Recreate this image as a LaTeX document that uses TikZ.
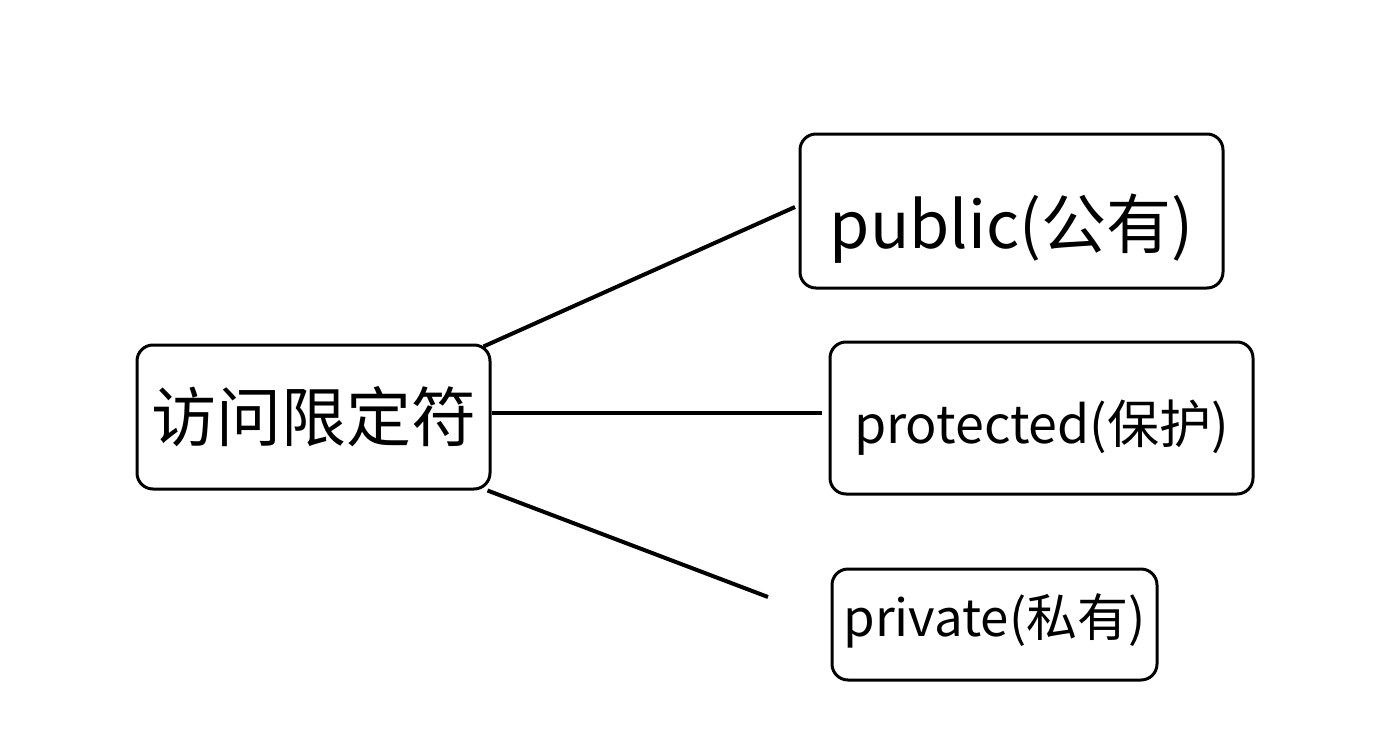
\documentclass[tikz,border=0pt]{standalone}
\usepackage{fontspec}
\setmainfont{Noto Sans CJK SC}
\usetikzlibrary{positioning}

\tikzset{
	box/.style={ draw, line width=3pt, rounded corners=16pt, inner sep=0pt, align=center },
	link/.style={ line width=4pt }
}

\begin{document}
\begin{tikzpicture}[ x=1pt, y=-1pt ]

	\def\bigsize{\fontsize{65}{70}\selectfont}
	\def\midsize{\fontsize{65}{70}\selectfont}
	\def\smallsize{\fontsize{52}{58}\selectfont}
	\def\tinysize{\fontsize{51}{56}\selectfont}

	\useasboundingbox (0, 0) rectangle (1400, 736);

	\node[ box, minimum width=353pt, minimum height=144pt ] (access) at (313.5, 417) {\bigsize 访问限定符};

	\node[ box, minimum width=423pt, minimum height=154pt ] (public) at (1011.5, 211) {\raisebox{-18pt}[\height][\depth]{\midsize public(公有)}};
	\node[ box, minimum width=423pt, minimum height=152pt ] (protected) at (1041.5, 418) {\raisebox{-10pt}[\height][\depth]{\smallsize protected(保护)}};
	\node[ box, minimum width=325pt, minimum height=111pt ] (private) at (994.5, 624.5) {\raisebox{4pt}[\height][\depth]{\tinysize private(私有)}};

	\coordinate (publicend) at (795, 207);
	\coordinate (protectedend) at (822, 413);
	\coordinate (privateend) at (768, 597);

	\draw[ link ] ([xshift=-8pt, yshift=-3pt]access.north east) -- (publicend);
	\draw[ link ] (access.east |- protectedend) -- (protectedend);
	\draw[ link ] ([xshift=-4pt, yshift=0pt]access.south east) -- (privateend);

\end{tikzpicture}
\end{document}
